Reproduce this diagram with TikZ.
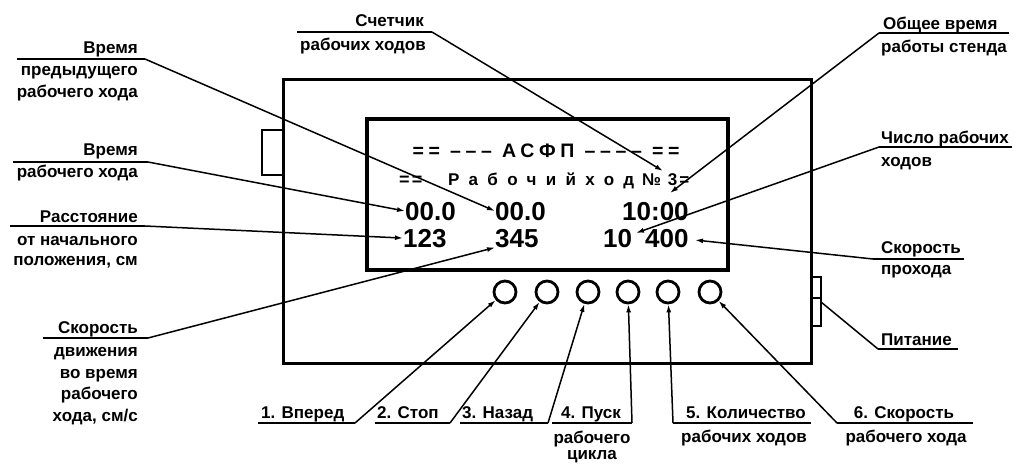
\documentclass[tikz,border=0pt]{standalone}
\usepackage{fontspec}
\setmainfont{Liberation Sans}
\newfontfamily\lsA[LetterSpace=24]{Liberation Sans}
\newfontfamily\lsB[LetterSpace=55]{Liberation Sans}
\newfontfamily\lsC[LetterSpace=12]{Liberation Sans}
\usetikzlibrary{arrows.meta}
\begin{document}
\begin{tikzpicture}[x=1pt,y=-1pt,
  lbl/.style={font=\fontsize{17}{20}\selectfont\bfseries, inner sep=0pt},
  lead/.style={line width=1.5pt},
  arr/.style={lead, -{Latex[length=8pt,width=5pt]}},
  frame/.style={line width=3pt},
  btn/.style={circle, draw, line width=2.8pt, minimum size=22pt, inner sep=0pt},
  scr/.style={inner sep=0pt, font=\fontsize{26}{26}\selectfont\bfseries},
  scrl/.style={inner sep=0pt, anchor=base west},
]
\useasboundingbox (0,0) rectangle (1016,463);
% housing
\draw[frame] (283,79) rectangle (811,363);
\draw[line width=2pt] (283,130) -- (262,130) -- (262,175) -- (283,175);
\draw[line width=2pt] (811,277) -- (821,277) -- (821,326) -- (811,326);
\draw[line width=1.5pt] (811,298) -- (821,298);
% screen
\draw[line width=3.5pt] (367,119) rectangle (728,270);
\node[inner sep=0pt, anchor=base, font=\lsA\bfseries\fontsize{19.5}{20}\selectfont] (s1) at (546,157) {== ––– АСФП –––– ==};
\node[scrl, font=\lsC\bfseries\fontsize{18}{20}\selectfont] (s2a) at (399,185) {==};
\node[scrl, font=\lsB\bfseries\fontsize{17}{20}\selectfont] (s2) at (448,185) {Рабочийход};
\node[scrl, font=\lsC\bfseries\fontsize{17}{20}\selectfont] (s3) at (642,185) {№ 3=};
\node[scr, anchor=base west] (t00a) at (405,220) {00.0};
\node[scr, anchor=base west] (t00b) at (495,220) {00.0};
\node[scr, anchor=base west] (t1000) at (622,220) {10:00};
\node[scr, anchor=base west] (t123) at (403,247) {123};
\node[scr, anchor=base west] (t345) at (495,247) {345};
\node[scr, anchor=base west] (t10) at (603,247) {10};
\node[scr, anchor=base west] (t400) at (645,247) {400};
\coordinate (pE) at (663,171);
\coordinate (pF) at (670,193);
\coordinate (pG) at (636,233);
\coordinate (pH) at (695,240);
\coordinate (pI) at (821,302);
% buttons
\foreach \i/\x in {1/505,2/547,3/588,4/628,5/668,6/710}
  \node[btn] (b\i) at (\x,292) {};
% left labels
\node[lbl, anchor=base east] (a1) at (138,53) {Время};
\node[lbl, anchor=base east] (a2) at (138,75) {предыдущего};
\node[lbl, anchor=base east] (a3) at (138,97) {рабочего хода};
\coordinate (ua0) at (17,59); \coordinate (ua) at (145,59);
\draw[lead] (ua0) -- (ua); \draw[arr] (ua) -- (t00b.west);

\node[lbl, anchor=base east] (b1t) at (138,155) {Время};
\node[lbl, anchor=base east] (b2t) at (138,177) {рабочего хода};
\coordinate (ub0) at (13,162); \coordinate (ub) at (148,162);
\draw[lead] (ub0) -- (ub); \draw[arr] (ub) -- (t00a.west);

\node[lbl, anchor=base east] (c1) at (138,222) {Расстояние};
\node[lbl, anchor=base east] (c2) at (138,245) {от начального};
\node[lbl, anchor=base east] (c3) at (138,265) {положения, см};
\coordinate (uc0) at (10,226); \coordinate (uc) at (145,226);
\draw[lead] (uc0) -- (uc); \draw[arr] (uc) -- (t123.west);

\node[lbl, anchor=base east] (d1) at (138,333) {Скорость};
\node[lbl, anchor=base east] (d2) at (138,356) {движения};
\node[lbl, anchor=base east] (d3) at (138,378) {во время};
\node[lbl, anchor=base east] (d4) at (138,399) {рабочего};
\node[lbl, anchor=base east] (d5) at (138,421) {хода, см/с};
\coordinate (ud0) at (43,338); \coordinate (ud) at (148,338);
\draw[lead] (ud0) -- (ud); \draw[arr] (ud) -- (t345.south west);
% top labels
\node[lbl, anchor=base east] (e1) at (424,27) {Счетчик};
\node[lbl, anchor=base east] (e2) at (426,50) {рабочих ходов};
\coordinate (ue0) at (297,32); \coordinate (ue) at (432,32);
\draw[lead] (ue0) -- (ue); \draw[arr] (ue) -- (pE);

\node[lbl, anchor=base west] (f1) at (883,29) {Общее время};
\node[lbl, anchor=base west] (f2) at (881,52) {работы стенда};
\coordinate (uf) at (879,33); \coordinate (uf1) at (1009,33);
\draw[lead] (uf) -- (uf1); \draw[arr] (uf) -- (pF);

\node[lbl, anchor=base west] (g1) at (881,143) {Число рабочих};
\node[lbl, anchor=base west] (g2) at (881,166) {ходов};
\coordinate (ug) at (879,147); \coordinate (ug1) at (1012,147);
\draw[lead] (ug) -- (ug1); \draw[arr] (ug) -- (pG);

\node[lbl, anchor=base west] (h1) at (881,253) {Скорость};
\node[lbl, anchor=base west] (h2) at (881,274) {прохода};
\coordinate (uh) at (873,259); \coordinate (uh1) at (964,259);
\draw[lead] (uh) -- (uh1); \draw[arr] (uh) -- (pH);

\node[lbl, anchor=base west] (i1) at (881,345) {Питание};
\coordinate (ui) at (878,349); \coordinate (ui1) at (958,349);
\draw[lead] (ui) -- (ui1); \draw[lead] (ui) -- (pI);
% bottom labels
\node[lbl, anchor=base west] (k1) at (261,418) {1. Вперед};
\coordinate (uk10) at (258,423); \coordinate (uk1) at (355,423);
\draw[lead] (uk10) -- (uk1); \draw[arr] (uk1) -- (b1);

\node[lbl, anchor=base west] (k2) at (377,418) {2. Стоп};
\coordinate (uk20) at (375,423); \coordinate (uk2) at (450,423);
\draw[lead] (uk20) -- (uk2); \draw[arr] (uk2) -- (b2);

\node[lbl, anchor=base west] (k3) at (462,418) {3. Назад};
\coordinate (uk30) at (460,423); \coordinate (uk3) at (548,423);
\draw[lead] (uk30) -- (uk3); \draw[arr] (uk3) -- (b3);

\node[lbl, anchor=base] (k4) at (591,418) {4. Пуск};
\node[lbl, anchor=base] (k4b) at (592,443) {рабочего};
\node[lbl, anchor=base] (k4c) at (592,459) {цикла};
\coordinate (uk40) at (552,423); \coordinate (uk4) at (632,423);
\draw[lead] (uk40) -- (uk4); \draw[arr] (uk4) -- (b4);

\node[lbl, anchor=base] (k5) at (746,418) {5. Количество};
\node[lbl, anchor=base] (k5b) at (744,442) {рабочих ходов};
\coordinate (uk5) at (673,423); \coordinate (uk51) at (811,423);
\draw[lead] (uk5) -- (uk51); \draw[arr] (uk5) -- (b5);

\node[lbl, anchor=base] (k6) at (904,418) {6. Скорость};
\node[lbl, anchor=base] (k6b) at (906,442) {рабочего хода};
\coordinate (uk6) at (837,423); \coordinate (uk61) at (973,423);
\draw[lead] (uk6) -- (uk61); \draw[arr] (uk6) -- (b6);
\end{tikzpicture}
\end{document}
